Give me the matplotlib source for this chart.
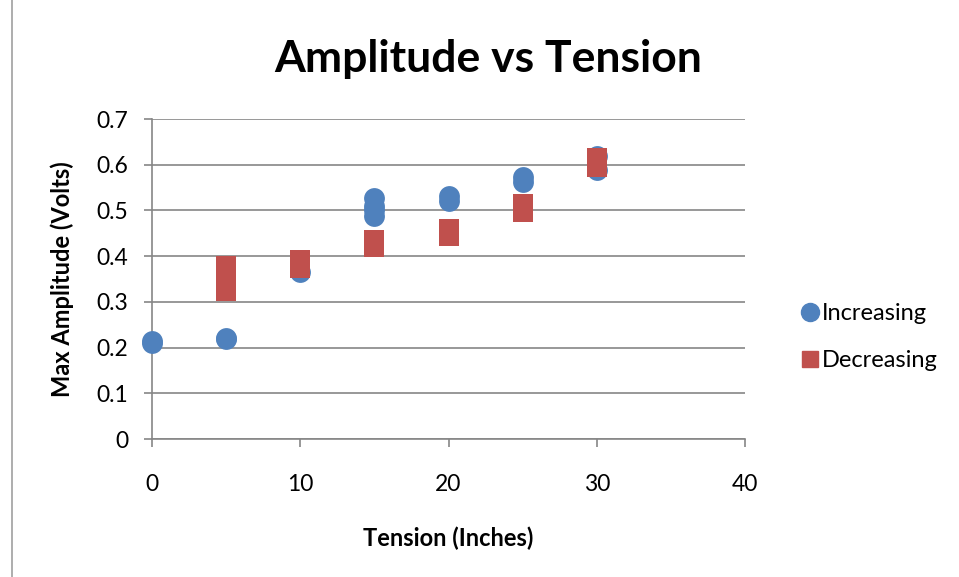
import matplotlib.pyplot as plt
from matplotlib.lines import Line2D

plt.rcParams['font.family'] = ['Lato', 'DejaVu Sans']

# Increasing tension series
inc_x = [0, 0, 5, 5, 10, 15, 15, 15, 15, 20, 20, 25, 25, 30, 30]
inc_y = [0.21, 0.215, 0.218, 0.22, 0.365, 0.528, 0.51, 0.5, 0.487, 0.532, 0.52, 0.573, 0.562, 0.62, 0.588]

# Decreasing tension series
dec_x = [5, 5, 5, 5, 10, 10, 15, 15, 20, 20, 25, 25, 30, 30]
dec_y = [0.378, 0.36, 0.34, 0.323, 0.392, 0.375, 0.435, 0.42, 0.46, 0.445, 0.513, 0.497, 0.614, 0.594]

x_ticks = [0, 10, 20, 30, 40]
y_ticks = [0, 0.1, 0.2, 0.3, 0.4, 0.5, 0.6, 0.7]

blue = '#4F81BD'
red = '#C0504D'
grid_col = '#868686'

fig = plt.figure(figsize=(9.59, 5.77), dpi=100)
ax = fig.add_axes([152 / 959, 1 - 439 / 577, (745 - 152) / 959, (439 - 119) / 577])

ax.scatter(inc_x, inc_y, s=225, marker='o', color=blue, zorder=3, linewidths=0)
ax.scatter(dec_x, dec_y, s=215, marker='s', color=red, zorder=4, linewidths=0)

ax.set_xlim(0, 40)
ax.set_ylim(0, 0.7)
ax.set_xticks(x_ticks)
ax.set_yticks(y_ticks)
ax.set_yticklabels(['0', '0.1', '0.2', '0.3', '0.4', '0.5', '0.6', '0.7'])
ax.yaxis.grid(True, color=grid_col, linewidth=1.2)
ax.set_axisbelow(True)

for s in ['top', 'right']:
    ax.spines[s].set_visible(False)
for s in ['left', 'bottom']:
    ax.spines[s].set_color(grid_col)
    ax.spines[s].set_linewidth(1.2)

ax.tick_params(axis='both', direction='out', length=6, width=1.2, color=grid_col,
               labelsize=16.5, labelcolor='black')
ax.tick_params(axis='x', pad=19)
ax.tick_params(axis='y', pad=11)
for c in ax.collections:
    c.set_clip_on(False)

ax.set_xlabel('Tension (Inches)', fontsize=17, fontweight='bold', labelpad=23)
ax.set_ylabel('Max Amplitude (Volts)', fontsize=17, fontweight='bold', labelpad=16)
fig.text(488 / 959, 1 - 59 / 577, 'Amplitude vs Tension', fontsize=32, fontweight='bold',
         ha='center', va='center')

handles = [
    Line2D([], [], marker='o', linestyle='none', color=blue, markersize=13, label='Increasing'),
    Line2D([], [], marker='s', linestyle='none', color=red, markersize=12, label='Decreasing'),
]
fig.legend(handles=handles, loc='center left', bbox_to_anchor=(786 / 959, 1 - 337 / 577),
           frameon=False, fontsize=17, handletextpad=0.0, labelspacing=1.1,
           handlelength=1.0, borderpad=0)

# chart border fragment on the left
fig.add_artist(Line2D([12 / 959, 12 / 959], [0, 1], color='#a0a0a0', linewidth=1.2))

fig.savefig('out.png', dpi=100)
